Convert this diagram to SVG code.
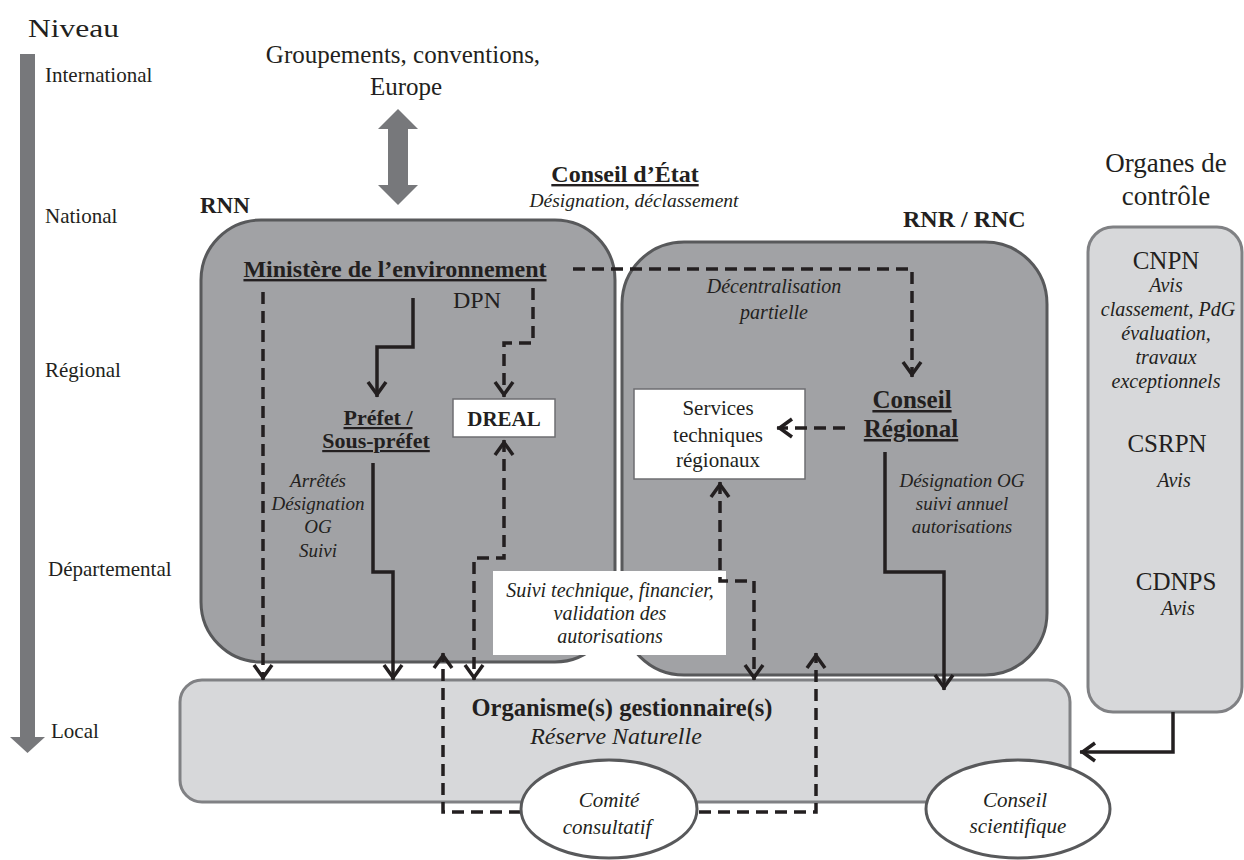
<svg xmlns="http://www.w3.org/2000/svg" width="1244" height="860" viewBox="0 0 1244 860" font-family="'Liberation Serif', serif">
<style>
text{font-family:'Liberation Serif','Times New Roman',serif;fill:#231f20}
.b{font-weight:bold}
.i{font-style:italic}
.u{text-decoration:underline}
.m{text-anchor:middle}
.dark{fill:#a1a2a5;stroke:#58595b;stroke-width:3}
.light{fill:#d7d8da;stroke:#808184;stroke-width:3}
.wbox{fill:#fff;stroke:#6d6e71;stroke-width:1.5}
.ell{fill:#fff;stroke:#58595b;stroke-width:3}
.c{fill:none;stroke:#231f20;stroke-width:3.5;stroke-linejoin:miter}
.d{stroke-dasharray:12 7}
.big{fill:#77787b}
</style>
<defs>
<marker id="ah" viewBox="-20 -12 24 24" refX="0" refY="0" markerWidth="24" markerHeight="24" markerUnits="userSpaceOnUse" orient="auto-start-reverse">
<path d="M-15,-9 L-2.5,0 L-15,9" fill="none" stroke="#231f20" stroke-width="3.5" stroke-dasharray="none"/>
</marker>
</defs>
<rect width="1244" height="860" fill="#fff"/>

<g id="axis">
<polygon class="big" points="20,54 35,54 35,737 45,737 27.5,753 10,737 20,737"/>
<text x="28" y="37" font-size="25" textLength="91" lengthAdjust="spacingAndGlyphs">Niveau</text>
<text x="45" y="82" font-size="21">International</text>
<text x="45" y="223" font-size="21">National</text>
<text x="45" y="377" font-size="21">Régional</text>
<text x="48" y="576" font-size="21">Départemental</text>
<text x="51" y="738" font-size="21">Local</text>
</g>

<g id="international">
<text class="m" x="403" y="63" font-size="25">Groupements, conventions,</text>
<text class="m" x="406" y="95" font-size="25">Europe</text>
<polygon class="big" points="398,109 418,129 408,129 408,185 418,185 398,205 378,185 388,185 388,129 378,129"/>
</g>

<g id="conseil-etat">
<text class="m b u" x="625" y="182" font-size="24">Conseil d’État</text>
<text class="m i" x="634" y="207" font-size="19.5">Désignation, déclassement</text>
</g>

<g id="rnn">
<text class="b" x="200" y="213" font-size="23">RNN</text>
<rect class="dark" x="201" y="220" width="414" height="442" rx="60"/>
</g>

<g id="rnr">
<text class="b" x="903" y="227" font-size="24">RNR / RNC</text>
<rect class="dark" x="622" y="242" width="425" height="433" rx="62"/>
</g>

<g id="organisme">
<rect class="light" x="180" y="680" width="890" height="122" rx="22"/>
<text class="m b" x="622" y="716" font-size="24.5">Organisme(s) gestionnaire(s)</text>
<text class="m i" x="616" y="744" font-size="24">Réserve Naturelle</text>
</g>

<g id="controle">
<text class="m" x="1166" y="172" font-size="27">Organes de</text>
<text class="m" x="1166" y="205" font-size="27">contrôle</text>
<rect class="light" x="1088" y="227" width="154" height="485" rx="25"/>
<text class="m" x="1166" y="269" font-size="25">CNPN</text>
<text class="m i" x="1166" y="292" font-size="20">Avis</text>
<text class="m i" x="1168" y="316" font-size="20">classement, PdG</text>
<text class="m i" x="1166" y="340" font-size="20">évaluation,</text>
<text class="m i" x="1166" y="364" font-size="20">travaux</text>
<text class="m i" x="1166" y="388" font-size="20">exceptionnels</text>
<text class="m" x="1167" y="452" font-size="25">CSRPN</text>
<text class="m i" x="1174" y="487" font-size="20">Avis</text>
<text class="m" x="1176" y="590" font-size="25">CDNPS</text>
<text class="m i" x="1178" y="615" font-size="20">Avis</text>
</g>

<g id="suivi-label">
<rect x="493" y="571" width="233" height="84" fill="#fff"/>
<text class="m i" x="610" y="597" font-size="20">Suivi technique, financier,</text>
<text class="m i" x="610" y="620" font-size="20">validation des</text>
<text class="m i" x="610" y="643" font-size="20">autorisations</text>
</g>

<g id="ministere">
<text class="m b u" x="395" y="277" font-size="24">Ministère de l’environnement</text>
<text x="453" y="308" font-size="24">DPN</text>
</g>

<g id="prefet">
<text class="m b u" x="378" y="425" font-size="22">Préfet /</text>
<text class="m b u" x="376" y="448" font-size="22">Sous-préfet</text>
</g>

<g id="dreal">
<rect class="wbox" x="453" y="399" width="102" height="38"/>
<text class="m b" x="504" y="426" font-size="21">DREAL</text>
</g>

<g id="conseil-regional">
<text class="m b u" x="912" y="408" font-size="25">Conseil</text>
<text class="m b u" x="911" y="437" font-size="25">Régional</text>
</g>

<g id="services">
<rect class="wbox" x="634" y="389" width="171" height="90"/>
<text class="m" x="718" y="415" font-size="21">Services</text>
<text class="m" x="718" y="442" font-size="21">techniques</text>
<text class="m" x="718" y="467" font-size="21">régionaux</text>
</g>

<g id="labels">
<text class="m i" x="774" y="293" font-size="20">Décentralisation</text>
<text class="m i" x="774" y="319" font-size="20">partielle</text>
<text class="m i" x="318" y="487" font-size="19">Arrêtés</text>
<text class="m i" x="318" y="510" font-size="19">Désignation</text>
<text class="m i" x="318" y="533" font-size="19">OG</text>
<text class="m i" x="318" y="557" font-size="19">Suivi</text>
<text class="m i" x="962" y="487" font-size="19">Désignation OG</text>
<text class="m i" x="962" y="510" font-size="19">suivi annuel</text>
<text class="m i" x="962" y="533" font-size="19">autorisations</text>
</g>

<g id="connectors">
<path class="c d" d="M263,292 V680" marker-end="url(#ah)"/>
<path class="c" d="M413,298 V347 H377 V397" marker-end="url(#ah)"/>
<path class="c" d="M373,463 V572 H393 V680" marker-end="url(#ah)"/>
<path class="c d" d="M533,288 V343 H504 V397" marker-end="url(#ah)"/>
<path class="c d" d="M504,440 V558 H474 V680" marker-start="url(#ah)" marker-end="url(#ah)"/>
<path class="c d" d="M573,269 H912 V377" marker-end="url(#ah)"/>
<path class="c d" d="M845,428 H777" marker-end="url(#ah)"/>
<path class="c d" d="M720,482 V581 H754 V680" marker-start="url(#ah)" marker-end="url(#ah)"/>
<path class="c" d="M885,452 V572 H944 V690" marker-end="url(#ah)"/>
<path class="c d" d="M540,812 H443 V653" marker-end="url(#ah)"/>
<path class="c d" d="M680,812 H816 V653" marker-end="url(#ah)"/>
<path class="c" d="M1173,712 V752 H1080" marker-end="url(#ah)"/>
</g>

<g id="comite">
<ellipse class="ell" cx="609" cy="809" rx="88" ry="49"/>
<text class="m i" x="609" y="807" font-size="21">Comité</text>
<text class="m i" x="607" y="834" font-size="21">consultatif</text>
</g>

<g id="conseil-scientifique">
<ellipse class="ell" cx="1018" cy="809" rx="92" ry="49"/>
<text class="m i" x="1015" y="807" font-size="21">Conseil</text>
<text class="m i" x="1018" y="833" font-size="21">scientifique</text>
</g>
</svg>
